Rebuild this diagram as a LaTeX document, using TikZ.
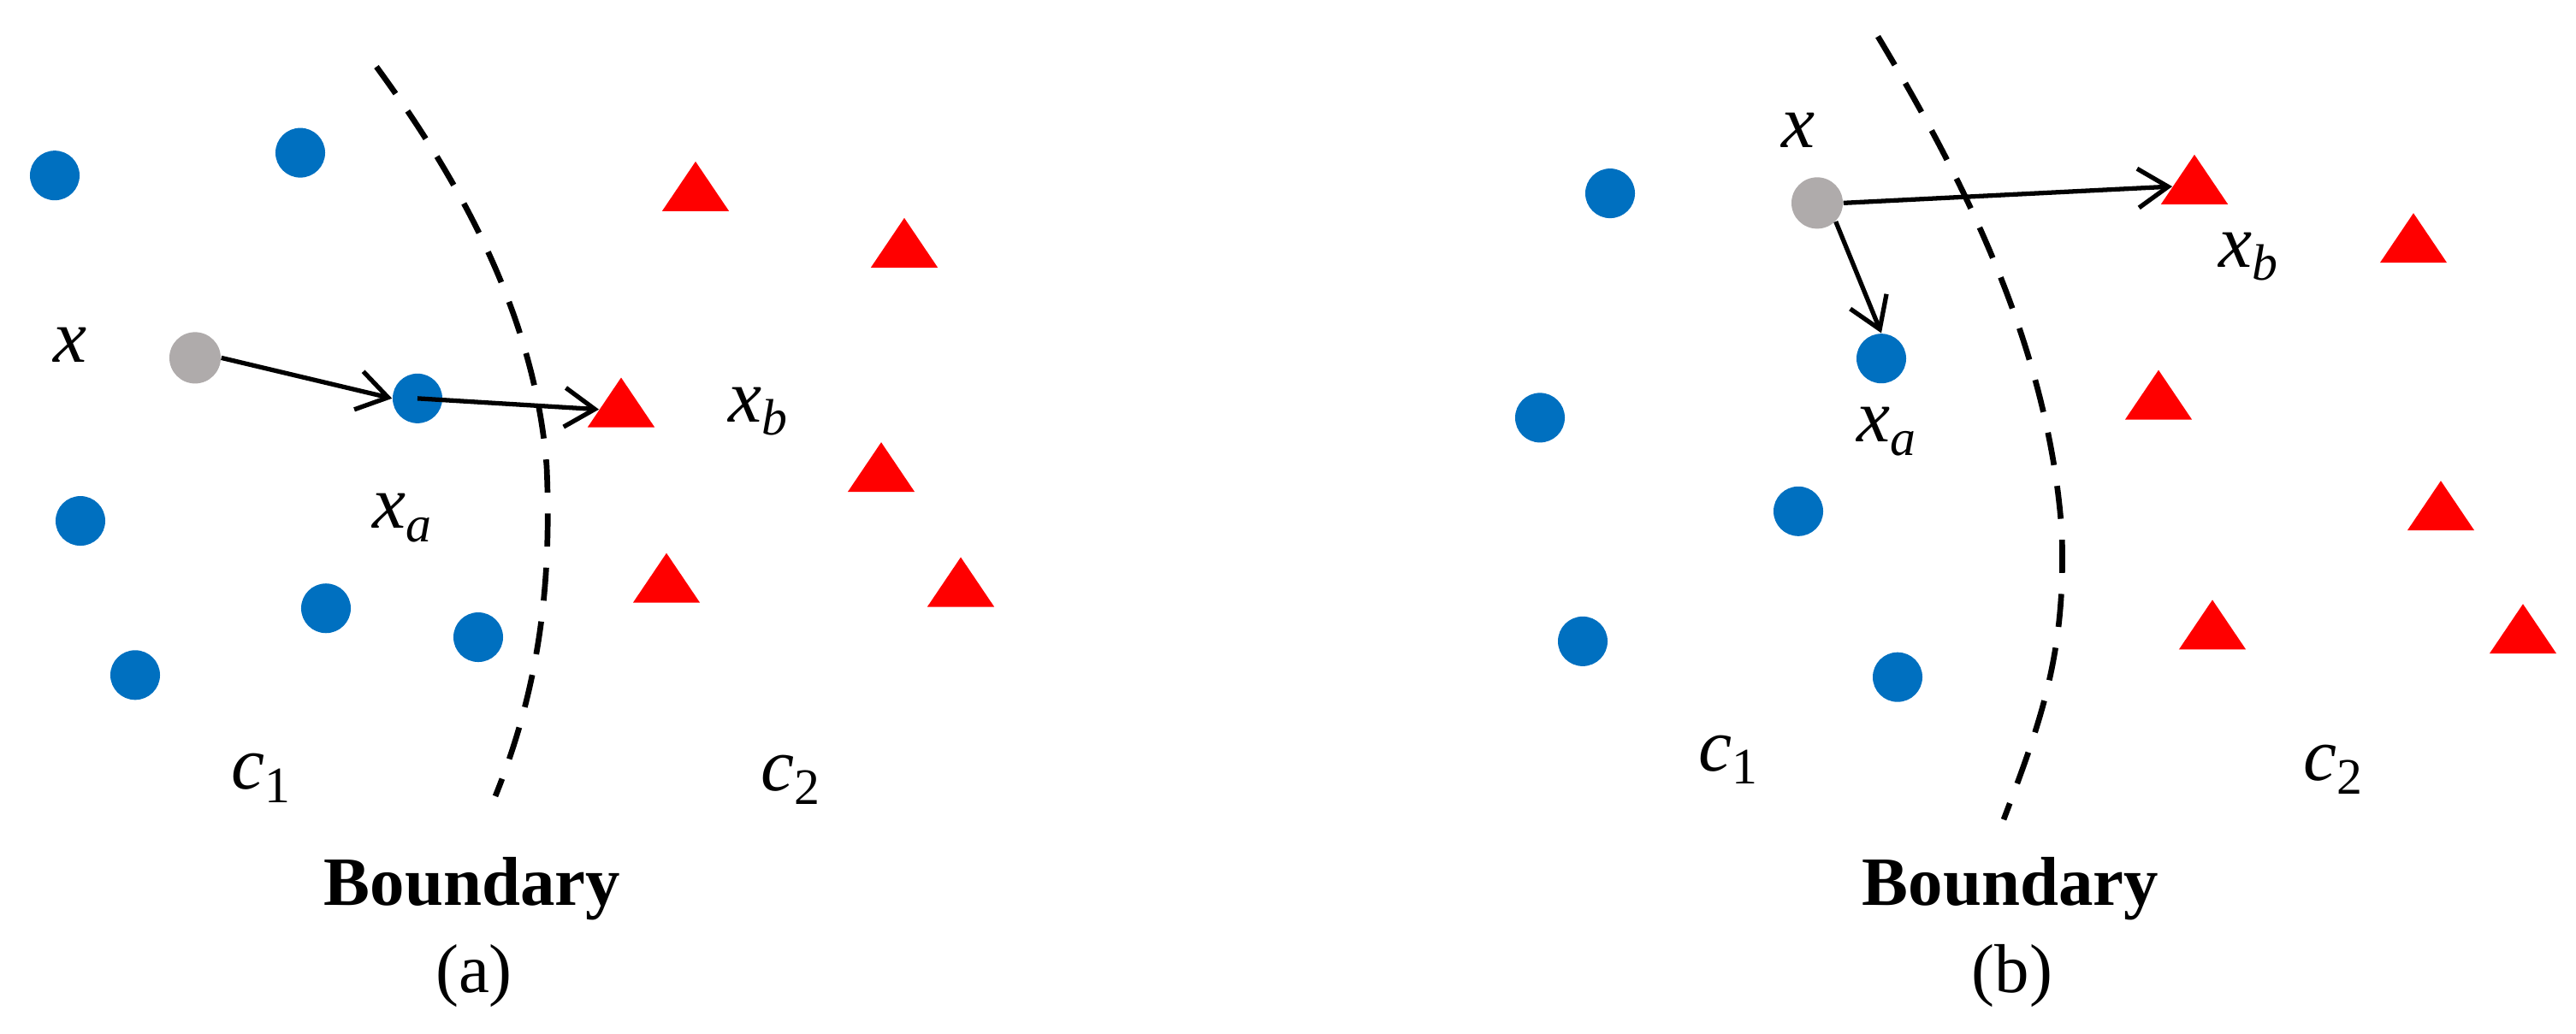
\documentclass[tikz,border=0pt]{standalone}
\usepackage{fontspec}
\setmainfont{Liberation Serif}
\usetikzlibrary{arrows.meta,shapes.geometric}
\tikzset{
  bpt/.style={circle,minimum size=0.58cm,inner sep=0pt,fill={rgb,255:red,0;green,112;blue,192}},
  gpt/.style={circle,minimum size=0.60cm,inner sep=0pt,fill={rgb,255:red,175;green,171;blue,171}},
  tri/.style={isosceles triangle,isosceles triangle apex angle=68,shape border rotate=90,minimum width=0.78cm,minimum height=0.58cm,inner sep=0pt,fill=red},
  lab/.style={inner sep=0pt,font=\fontsize{25}{25}\selectfont\itshape},
  bnd/.style={line width=1.9pt,dash pattern=on 11pt off 7pt},
  arr/.style={line width=1.5pt,-{Straight Barb[length=10pt,width=13pt,line width=1.5pt]}},
  ttl/.style={inner sep=0pt,font=\fontsize{23}{23}\selectfont\bfseries},
  captxt/.style={inner sep=0pt,font=\fontsize{23}{23}\selectfont}
}
\newcommand{\subsc}[1]{\raisebox{-0.18em}{\fontsize{17}{17}\selectfont #1}}
\begin{document}
\begin{tikzpicture}[x=0.01cm,y=-0.00804cm]
\useasboundingbox (0,0) rectangle (3011,1502);
% ---- panel (a)
\node[bpt] (a1) at (64,255) {};
\node[bpt] (a2) at (351,222) {};
\node[bpt] (a3) at (94,757) {};
\node[bpt] (a4) at (381,884) {};
\node[bpt] (a5) at (158,981) {};
\node[bpt] (a6) at (559,926) {};
\node[bpt] (axa) at (488,579) {};
\node[gpt] (ax) at (228,520) {};
\node[tri] (at1) at (813,281) {};
\node[tri] (at2) at (1057,363) {};
\node[tri] (axb) at (726,595) {};
\node[tri] (at4) at (1030,689) {};
\node[tri] (at5) at (779,850) {};
\node[tri] (at6) at (1123,856) {};
\draw[bnd] (440,97) .. controls (530,250) and (625,450) .. (639,678) .. controls (645,850) and (630,1000) .. (579,1157);
\draw[arr] (ax.east) -- (axa.west);
\draw[arr] (axa.center) -- (axb.west);
\node[lab] (lx) at (82,501) {x};
\node[lab] (lxb) at (886,598) {x\subsc{b}};
\node[lab] (lxa) at (470,753) {x\subsc{a}};
\node[lab] (lc1) at (305,1131) {c\subsc{\upshape 1}};
\node[lab] (lc2) at (924,1133) {c\subsc{\upshape 2}};
\node[ttl] (abd) at (552,1292) {Boundary};
\node[captxt] (acap) at (554,1418) {(a)};
% ---- panel (b)
\node[bpt] (b1) at (1882,281) {};
\node[bpt] (b2) at (1800,607) {};
\node[bpt] (b3) at (2102,743) {};
\node[bpt] (b4) at (1850,932) {};
\node[bpt] (b5) at (2218,984) {};
\node[bpt] (bxa) at (2199,521) {};
\node[gpt] (bx) at (2124,295) {};
\node[tri] (bxb) at (2565,271) {};
\node[tri] (bt2) at (2821,356) {};
\node[tri] (bt3) at (2523,584) {};
\node[tri] (bt4) at (2853,745) {};
\node[tri] (bt5) at (2586,918) {};
\node[tri] (bt6) at (2949,924) {};
\draw[bnd] (2195,53) .. controls (2290,250) and (2395,500) .. (2410,774) .. controls (2415,950) and (2385,1050) .. (2342,1191);
\draw[arr] (bx.east) -- (bxb.west);
\draw[arr] (bx.south east) -- (bxa.north);
\node[lab] (mx) at (2102,189) {x};
\node[lab] (mxb) at (2628,373) {x\subsc{b}};
\node[lab] (mxa) at (2205,627) {x\subsc{a}};
\node[lab] (mc1) at (2020,1104) {c\subsc{\upshape 1}};
\node[lab] (mc2) at (2727,1118) {c\subsc{\upshape 2}};
\node[ttl] (bbd) at (2350,1292) {Boundary};
\node[captxt] (bcap) at (2352,1418) {(b)};
\end{tikzpicture}
\end{document}
